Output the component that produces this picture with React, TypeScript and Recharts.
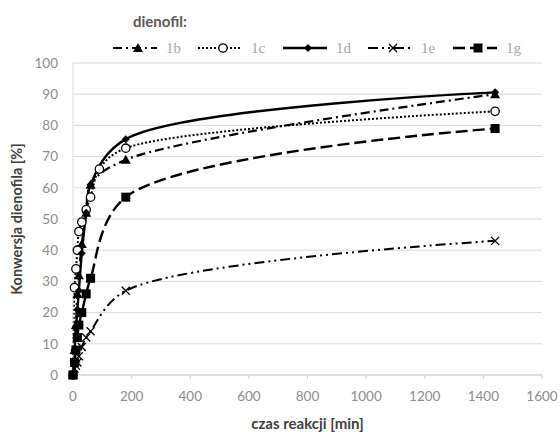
import React from 'react';
import {
  LineChart,
  Line,
  XAxis,
  YAxis,
  CartesianGrid,
  Legend,
} from 'recharts';

// czas reakcji [min]
const czas = [0, 5, 10, 15, 20, 30, 45, 60, 90, 180, 1440];

// konwersja dienofila [%] (null = brak pomiaru)
const s1b = [0, 8, 16, 26, 32, 42, 52, 61, null, 69, 90];
const s1c = [0, 28, 34, 40, 46, 49, 53, 57, 66, 72.7, 84.5];
const s1d = [0, 8, 15, 21, 27, 39, 52, 61, null, 75.6, 90.6];
const s1e = [0, 2, 3, 4, 6, 9, 12, 14, null, 27, 43];
const s1g = [0, 4, 8, 12, 16, 20, 26, 31, null, 57, 79];

const seriesNames = ['1b', '1c', '1d', '1e', '1g'];
const seriesValues = [s1b, s1c, s1d, s1e, s1g];

const xTicks = [0, 200, 400, 600, 800, 1000, 1200, 1400, 1600];
const yTicks = [0, 10, 20, 30, 40, 50, 60, 70, 80, 90, 100];

const data = czas.map((t, i) => {
  const row: Record<string, number | null> = { czas: t };
  seriesNames.forEach((n, k) => {
    row[n] = seriesValues[k][i];
  });
  return row;
});

const FONT = 'Lato, "Open Sans", sans-serif';

// excel-like smoothing: centripetal catmull-rom (same maths as d3 curveCatmullRom)
class CatmullRom {
  _context: any;
  _alpha: number;
  _line = NaN;
  _point = 0;
  _x0 = NaN; _x1 = NaN; _x2 = NaN;
  _y0 = NaN; _y1 = NaN; _y2 = NaN;
  _l01_a = 0; _l12_a = 0; _l23_a = 0;
  _l01_2a = 0; _l12_2a = 0; _l23_2a = 0;

  constructor(context: any, alpha: number) {
    this._context = context;
    this._alpha = alpha;
  }
  areaStart() { this._line = 0; }
  areaEnd() { this._line = NaN; }
  lineStart() {
    this._x0 = this._x1 = this._x2 = this._y0 = this._y1 = this._y2 = NaN;
    this._l01_a = this._l12_a = this._l23_a = this._l01_2a = this._l12_2a = this._l23_2a = this._point = 0;
  }
  lineEnd() {
    switch (this._point) {
      case 2: this._context.lineTo(this._x2, this._y2); break;
      case 3: this.point(this._x2, this._y2); break;
    }
    if (this._line || (this._line !== 0 && this._point === 1)) this._context.closePath();
    this._line = 1 - this._line;
  }
  bez(x: number, y: number) {
    let x1 = this._x1, y1 = this._y1, x2 = this._x2, y2 = this._y2;
    if (this._l01_a > 1e-12) {
      const a = 2 * this._l01_2a + 3 * this._l01_a * this._l12_a + this._l12_2a;
      const n = 3 * this._l01_a * (this._l01_a + this._l12_a);
      x1 = (x1 * a - this._x0 * this._l12_2a + this._x2 * this._l01_2a) / n;
      y1 = (y1 * a - this._y0 * this._l12_2a + this._y2 * this._l01_2a) / n;
    }
    if (this._l23_a > 1e-12) {
      const b = 2 * this._l23_2a + 3 * this._l23_a * this._l12_a + this._l12_2a;
      const m = 3 * this._l23_a * (this._l23_a + this._l12_a);
      x2 = (x2 * b + this._x1 * this._l23_2a - x * this._l12_2a) / m;
      y2 = (y2 * b + this._y1 * this._l23_2a - y * this._l12_2a) / m;
    }
    this._context.bezierCurveTo(x1, y1, x2, y2, this._x2, this._y2);
  }
  point(x: number, y: number) {
    x = +x; y = +y;
    if (this._point) {
      const x23 = this._x2 - x, y23 = this._y2 - y;
      this._l23_a = Math.sqrt((this._l23_2a = Math.pow(x23 * x23 + y23 * y23, this._alpha)));
    }
    switch (this._point) {
      case 0:
        this._point = 1;
        if (this._line) this._context.lineTo(x, y); else this._context.moveTo(x, y);
        break;
      case 1:
        this._point = 2;
        break;
      case 2:
        this._point = 3;
        this.bez(x, y);
        break;
      default:
        this.bez(x, y);
        break;
    }
    this._l01_a = this._l12_a; this._l12_a = this._l23_a;
    this._l01_2a = this._l12_2a; this._l12_2a = this._l23_2a;
    this._x0 = this._x1; this._x1 = this._x2; this._x2 = x;
    this._y0 = this._y1; this._y1 = this._y2; this._y2 = y;
  }
}

const smooth = (context: any) => new CatmullRom(context, 0.5);

const marker = (name: string, cx: number, cy: number, key?: string | number) => {
  if (cx == null || cy == null || isNaN(cy)) return <g key={key} />;
  switch (name) {
    case '1b':
      return (
        <polygon key={key} points={`${cx},${cy - 5} ${cx - 5},${cy + 4} ${cx + 5},${cy + 4}`} fill="#000" />
      );
    case '1c':
      return <circle key={key} cx={cx} cy={cy} r={4.2} fill="#fff" stroke="#000" strokeWidth={1.3} />;
    case '1d':
      return (
        <polygon key={key} points={`${cx},${cy - 4} ${cx + 4},${cy} ${cx},${cy + 4} ${cx - 4},${cy}`} fill="#000" />
      );
    case '1e':
      return (
        <g key={key} stroke="#000" strokeWidth={1.3}>
          <line x1={cx - 4} y1={cy - 4} x2={cx + 4} y2={cy + 4} />
          <line x1={cx - 4} y1={cy + 4} x2={cx + 4} y2={cy - 4} />
        </g>
      );
    default:
      return <rect key={key} x={cx - 4.5} y={cy - 4.5} width={9} height={9} fill="#000" />;
  }
};

const styles: Record<string, { dash?: string; width: number }> = {
  '1b': { dash: '9 4 2 4', width: 2.2 },
  '1c': { dash: '2 2', width: 2 },
  '1d': { width: 2.4 },
  '1e': { dash: '10 4 2 4 2 4', width: 2 },
  '1g': { dash: '12 5', width: 2.4 },
};

const LegendBox = () => {
  const y = 48;
  return (
    <svg width={560} height={60} style={{ display: 'block' }}>
      <text x={133} y={21} dominantBaseline="central" fontFamily={FONT} fontWeight={700} fontSize={15} fill="#595959">
        dienofil:
      </text>
      {seriesNames.map((n, i) => {
        const x0 = 113 + i * 85;
        const st = styles[n];
        return (
          <g key={n}>
            <line
              x1={x0}
              y1={y}
              x2={x0 + 44}
              y2={y}
              stroke="#000"
              strokeWidth={st.width}
              strokeDasharray={st.dash}
            />
            {marker(n, x0 + 25, y)}
            <text x={x0 + 53} y={y} dominantBaseline="central" fontFamily='"Liberation Serif", serif' fontSize={15} fill="#a6a6a6">
              {n}
            </text>
          </g>
        );
      })}
    </svg>
  );
};

const YTitle = (props: any) => {
  const vb = props.viewBox || { y: 63, height: 312 };
  const cy = vb.y + vb.height / 2;
  return (
    <text
      x={16}
      y={cy}
      transform={`rotate(-90 16 ${cy})`}
      textAnchor="middle"
      dominantBaseline="central"
      fontFamily={FONT}
      fontWeight={700}
      fontSize={14.5}
      fill="#404040"
    >
      Konwersja dienofila [%]
    </text>
  );
};

const XTitle = (props: any) => {
  const vb = props.viewBox || { x: 73, width: 469 };
  const cx = vb.x + vb.width / 2;
  return (
    <text x={cx} y={423} textAnchor="middle" dominantBaseline="central" fontFamily={FONT} fontWeight={700} fontSize={15} fill="#404040">
      czas reakcji [min]
    </text>
  );
};

export default function App() {
  return (
    <div style={{ position: 'absolute', left: 0, top: 0, width: 560, height: 432, background: '#fff' }}>
      <LineChart width={560} height={432} data={data} margin={{ top: 63, right: 18, bottom: 0, left: 0 }}>
        <CartesianGrid vertical={false} stroke="#d9d9d9" strokeWidth={1} />
        <XAxis
          dataKey="czas"
          type="number"
          domain={[0, 1600]}
          ticks={xTicks}
          height={57}
          stroke="#d0d0d0"
          tickSize={4}
          tickMargin={12}
          tick={{ fill: '#8c8c8c', fontSize: 13.5, fontFamily: FONT }}
          label={<XTitle />}
        />
        <YAxis
          type="number"
          domain={[0, 100]}
          ticks={yTicks}
          width={73}
          stroke="#d9d9d9"
          tickLine={false}
          tickSize={0}
          tickMargin={15}
          tick={{ fill: '#8c8c8c', fontSize: 13.5, fontFamily: FONT }}
          label={<YTitle />}
        />
        <Legend
          layout="horizontal"
          verticalAlign="middle"
          align="center"
          wrapperStyle={{ top: 0, left: 0, width: 560, height: 60 }}
          content={<LegendBox />}
        />
        {seriesNames.map((n) => (
          <Line
            key={n}
            dataKey={n}
            type={smooth as any}
            stroke="#000"
            strokeWidth={styles[n].width}
            strokeDasharray={styles[n].dash}
            connectNulls
            isAnimationActive={false}
            dot={(p: any) => marker(n, p.cx, p.cy, `${n}-${p.index}`)}
            activeDot={false}
          />
        ))}
      </LineChart>
    </div>
  );
}
